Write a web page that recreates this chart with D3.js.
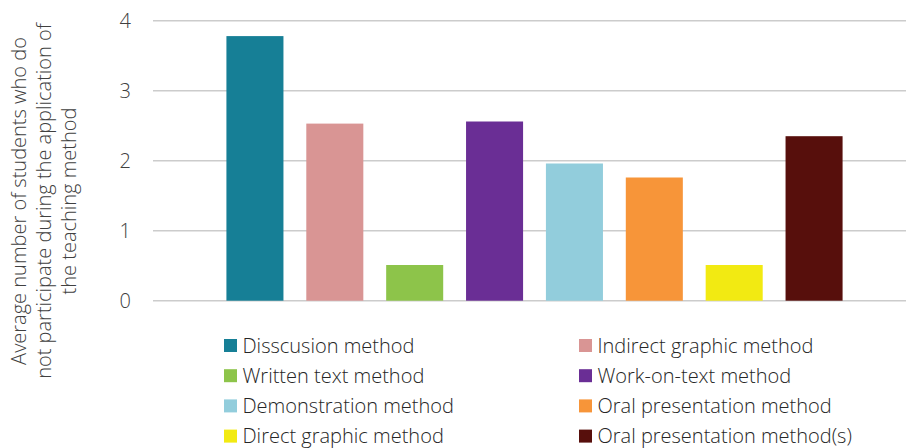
<!DOCTYPE html>
<html>
<head>
<meta charset="utf-8">
<script src="https://cdn.jsdelivr.net/npm/d3@7"></script>
<style>
  html, body { margin: 0; padding: 0; background: #fff; }
  svg text { font-family: "Open Sans", "Noto Sans", sans-serif; font-weight: 300; }
</style>
</head>
<body>
<svg id="chart" width="906" height="448"></svg>
<script>
// Teaching methods and the average number of non-participating students
const methods = [
  "Disscusion method",
  "Indirect graphic method",
  "Written text method",
  "Work-on-text method",
  "Demonstration method",
  "Oral presentation method",
  "Direct graphic method",
  "Oral presentation method(s)"
];
const values = [3.78, 2.53, 0.51, 2.56, 1.96, 1.76, 0.51, 2.35];
const colors = ["#167F96", "#D99594", "#8DC44A", "#6A2E95", "#92CDDC", "#F79539", "#F2EA12", "#570F0C"];
const yTicks = [0, 1, 2, 3, 4];
const yTitleLines = [
  "Average number of students who do",
  "not participate during the application of",
  "the teaching method"
];

const svg = d3.select("#chart");

const gridLeft = 153, gridRight = 906;
const x = d3.scaleBand()
  .domain(methods)
  .range([215, 854])
  .paddingInner(0.286)
  .paddingOuter(0.143);

const y = d3.scaleLinear()
  .domain([0, 4])
  .range([300.7, 20.7]);

// horizontal gridlines
svg.append("g")
  .selectAll("line")
  .data(yTicks)
  .join("line")
  .attr("x1", gridLeft)
  .attr("x2", gridRight)
  .attr("y1", d => y(d))
  .attr("y2", d => y(d))
  .attr("stroke", "#cccccc")
  .attr("stroke-width", 1.5);

// y tick labels
svg.append("g")
  .selectAll("text")
  .data(yTicks)
  .join("text")
  .attr("x", 131)
  .attr("y", d => y(d))
  .attr("dy", "0.35em")
  .attr("text-anchor", "end")
  .attr("font-size", 20)
  .attr("fill", "#404040")
  .text(d => d);

// bars
svg.append("g")
  .selectAll("rect")
  .data(methods)
  .join("rect")
  .attr("x", d => x(d))
  .attr("width", x.bandwidth())
  .attr("y", (d, i) => y(values[i]))
  .attr("height", (d, i) => y(0) - y(values[i]))
  .attr("fill", (d, i) => colors[i]);

// y axis title, three rotated lines
const titleX = [19, 44, 69];
svg.append("g")
  .selectAll("text")
  .data(yTitleLines)
  .join("text")
  .attr("transform", (d, i) => `translate(${titleX[i]},201) rotate(-90)`)
  .attr("text-anchor", "middle")
  .attr("dy", "0.35em")
  .attr("font-size", 20)
  .attr("fill", "#404040")
  .text(d => d);

// legend in two columns
const legendCols = [224, 579];
const legendRow0 = 345.5, legendRowStep = 30.2;
const legend = svg.append("g")
  .selectAll("g")
  .data(methods)
  .join("g")
  .attr("transform", (d, i) => `translate(${legendCols[i % 2]},${legendRow0 + Math.floor(i / 2) * legendRowStep})`);

legend.append("rect")
  .attr("x", 0)
  .attr("y", -6.5)
  .attr("width", 13)
  .attr("height", 13)
  .attr("fill", (d, i) => colors[i]);

legend.append("text")
  .attr("x", 18.5)
  .attr("y", 0)
  .attr("dy", "0.35em")
  .attr("font-size", 20)
  .attr("fill", "#262626")
  .text(d => d);
</script>
</body>
</html>
